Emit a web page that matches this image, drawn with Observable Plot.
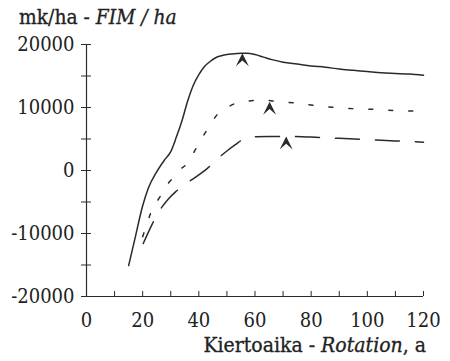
<!DOCTYPE html>
<html>
<head>
<meta charset="utf-8">
<script src="https://cdn.jsdelivr.net/npm/d3@7"></script>
<script src="https://cdn.jsdelivr.net/npm/@observablehq/plot@0.6"></script>
<style>
  html, body { margin: 0; padding: 0; background: #fff; }
  #wrap { position: relative; width: 450px; height: 361px; font-family: "DejaVu Serif Condensed", "DejaVu Serif", serif; font-stretch: condensed; color: #222; }
  #title { position: absolute; left: 19px; top: 5px; font-size: 20.8px; white-space: nowrap; -webkit-text-stroke: 0.3px #222; }
  #xtitle { position: absolute; right: 24px; top: 333px; font-size: 21px; white-space: nowrap; -webkit-text-stroke: 0.3px #222; }
  svg { position: absolute; left: 0; top: 0; }
  svg text { font-stretch: condensed; }
</style>
</head>
<body>
<div id="wrap">
  <div id="chart"></div>
  <div id="title">mk/ha - <i>FIM / ha</i></div>
  <div id="xtitle">Kiertoaika - <i>Rotation</i>, a</div>
</div>
<script>
// Rotation (years) and net value (FIM/ha) for the three curves
const solidX = [15, 17, 20, 22, 25, 28, 30, 32, 34, 36, 38, 40, 42, 44, 46, 48, 50, 52, 55, 57, 60, 63, 66, 70, 75, 80, 85, 90, 95, 100, 105, 110, 115, 120];
const solidY = [-15100, -11300, -5600, -2800, -200, 1800, 3000, 5300, 7900, 11000, 13500, 15200, 16500, 17300, 17900, 18200, 18400, 18500, 18600, 18600, 18400, 18000, 17600, 17200, 16900, 16600, 16400, 16100, 15900, 15700, 15500, 15400, 15300, 15100];

const dottedX = [20, 21, 23, 26.4, 28, 30.5, 33, 36, 39.6, 43, 47, 50, 53.4, 57, 60, 65, 67, 74.4, 81.5, 88.7, 95.8, 103.5, 110.6, 118.3, 120];
const dottedY = [-10500, -9200, -6600, -4000, -2700, -1300, 0, 1200, 4000, 6500, 9100, 10000, 10700, 11000, 11100, 11100, 11000, 10700, 10300, 10000, 9800, 9700, 9500, 9400, 9350];

const dashedX = [20.2, 23.4, 26.4, 29, 31.7, 36.1, 39, 42.4, 47, 50, 53, 56, 58, 65, 71, 80, 90, 100, 110, 120];
const dashedY = [-11600, -8500, -6100, -4600, -3400, -1900, -1000, 100, 2000, 3100, 4100, 5000, 5300, 5400, 5400, 5300, 5100, 4900, 4700, 4500];

// Optimum markers (arrow heads)
const peakX = [55.5, 65.2, 71.1];
const peakY = [18600, 10900, 5400];

const xLabels = [0, 20, 40, 60, 80, 100, 120];
const xMinor = [0, 10, 20, 30, 40, 50, 60, 70, 80, 90, 100, 110, 120];
const yLabels = [-20000, -10000, 0, 10000, 20000];
const yMinor = [-20000, -15000, -10000, -5000, 0, 5000, 10000, 15000, 20000];

const toRows = (xs, ys) => xs.map((x, i) => ({x, y: ys[i]}));
const solid = toRows(solidX, solidY);
const dotted = toRows(dottedX, dottedY);
const dashed = toRows(dashedX, dashedY);
const peaks = toRows(peakX, peakY);

const arrow = {
  draw(ctx, size) {
    const r = Math.sqrt(size / Math.PI);
    const h = 2 * r;
    ctx.moveTo(0, 0);
    ctx.lineTo(r, h);
    ctx.lineTo(0, h * 0.55);
    ctx.lineTo(-r, h);
    ctx.closePath();
  }
};

const ink = "#2a2a2a";
const chart = Plot.plot({
  width: 450,
  height: 361,
  marginLeft: 86,
  marginRight: 27,
  marginTop: 44,
  marginBottom: 65,
  style: {fontFamily: "'DejaVu Serif Condensed', 'DejaVu Serif', serif", fontSize: "20px", color: "#222", background: "transparent"},
  x: {domain: [0, 120]},
  y: {domain: [-20000, 20000]},
  marks: [
    Plot.ruleX([0], {stroke: ink, strokeWidth: 1.2}),
    Plot.ruleY([-20000], {stroke: ink, strokeWidth: 1.2}),
    Plot.axisY({ticks: yMinor, tickSize: 5, tickFormat: () => "", stroke: ink, label: null}),
    Plot.axisY({ticks: yMinor, tickSize: -5, tickFormat: () => "", stroke: ink, label: null}),
    Plot.axisY({ticks: yLabels, tickSize: 0, tickPadding: 12, tickFormat: d => String(d), fill: "#222", stroke: "#222", strokeWidth: 0.3, label: null}),
    Plot.axisX({ticks: xMinor, tickSize: -5, tickFormat: () => "", stroke: ink, label: null}),
    Plot.axisX({ticks: xLabels, tickSize: 0, tickPadding: 16, tickFormat: d => String(d), fill: "#222", stroke: "#222", strokeWidth: 0.3, label: null}),
    Plot.line(solid, {x: "x", y: "y", stroke: ink, strokeWidth: 1.5, curve: "monotone-x"}),
    Plot.line(dotted, {x: "x", y: "y", stroke: ink, strokeWidth: 1.5, curve: "monotone-x", strokeDasharray: "4,16"}),
    Plot.line(dashed, {x: "x", y: "y", stroke: ink, strokeWidth: 1.5, curve: "monotone-x", strokeDasharray: "24,16"}),
    Plot.dot(peaks, {x: "x", y: "y", symbol: arrow, r: 6.5, fill: ink, stroke: "none"})
  ]
});
document.getElementById("chart").appendChild(chart);
</script>
</body>
</html>
